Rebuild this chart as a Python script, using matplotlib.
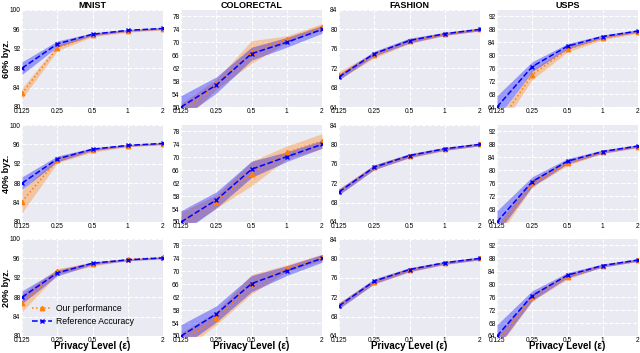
import matplotlib
matplotlib.use("Agg")
import matplotlib.pyplot as plt
import numpy as np

# x axis: privacy levels (categorical positions)
EPS_LABELS = ["0.125", "0.25", "0.5", "1", "2"]
ROW_LABELS = ["60% byz.", "40% byz.", "20% byz."]
DATASETS = ["MNIST", "COLORECTAL", "FASHION", "USPS"]

# rows: 60%, 40%, 20% byzantine
MNIST_OURS = [[82.8, 92.2, 94.8, 95.6, 96.1],
              [84.2, 92.8, 94.8, 95.7, 96.1],
              [86.8, 93.3, 94.8, 95.8, 96.2]]
MNIST_OURS_ERR = [[1.1, 0.6, 0.3, 0.2, 0.2],
                  [2.3, 0.6, 0.4, 0.2, 0.2],
                  [1.8, 0.6, 0.4, 0.2, 0.2]]
MNIST_REF = [[88.0, 93.0, 95.0, 95.8, 96.2],
             [88.0, 93.0, 95.0, 95.8, 96.2],
             [88.0, 93.0, 95.0, 95.7, 96.1]]
MNIST_REF_ERR = [[1.3, 0.6, 0.3, 0.2, 0.2],
                 [1.3, 0.6, 0.3, 0.2, 0.2],
                 [1.3, 0.6, 0.3, 0.2, 0.2]]

COLO_OURS = [[48.0, 57.0, 67.0, 71.0, 74.8],
             [50.0, 56.3, 65.0, 71.5, 75.0],
             [48.0, 55.5, 66.0, 71.0, 74.3]]
COLO_OURS_ERR = [[3.0, 1.5, 3.5, 1.0, 1.0],
                 [3.0, 2.0, 3.8, 2.0, 2.3],
                 [3.0, 2.0, 3.0, 1.0, 1.0]]
COLO_REF = [[50.0, 56.8, 66.5, 70.0, 74.0],
            [50.0, 56.8, 66.3, 70.2, 74.0],
            [50.0, 56.8, 66.2, 70.2, 74.0]]
COLO_REF_ERR = [[3.5, 2.5, 2.0, 1.5, 1.2],
                [3.5, 2.5, 2.5, 1.5, 1.2],
                [3.5, 2.5, 2.5, 1.5, 1.2]]

FASH_OURS = [[70.5, 74.7, 77.6, 79.0, 80.0],
             [70.3, 75.3, 77.6, 79.0, 80.0],
             [70.3, 75.2, 77.6, 79.0, 80.0]]
FASH_OURS_ERR = [[0.8, 0.6, 0.5, 0.3, 0.3],
                 [0.6, 0.5, 0.4, 0.3, 0.3],
                 [0.6, 0.5, 0.4, 0.3, 0.3]]
FASH_REF = [[70.2, 75.0, 77.7, 79.1, 80.0],
            [70.2, 75.3, 77.7, 79.1, 80.0],
            [70.2, 75.3, 77.7, 79.1, 80.0]]
FASH_REF_ERR = [[0.6, 0.5, 0.5, 0.3, 0.3],
                [0.6, 0.5, 0.4, 0.3, 0.3],
                [0.6, 0.5, 0.4, 0.3, 0.3]]

USPS_OURS = [[58.0, 74.0, 81.8, 85.3, 87.2],
             [61.0, 76.0, 82.2, 85.6, 87.3],
             [62.0, 76.0, 82.3, 85.8, 87.4]]
USPS_OURS_ERR = [[2.0, 1.5, 0.8, 0.5, 0.4],
                 [2.0, 1.2, 0.7, 0.4, 0.4],
                 [2.0, 1.2, 0.7, 0.4, 0.4]]
USPS_REF = [[64.0, 76.5, 82.8, 85.8, 87.5],
            [64.0, 76.5, 82.8, 85.8, 87.5],
            [64.0, 76.5, 82.8, 85.8, 87.5]]
USPS_REF_ERR = [[3.5, 1.5, 0.8, 0.5, 0.4],
                [3.5, 1.5, 0.8, 0.5, 0.4],
                [3.5, 1.5, 0.8, 0.5, 0.4]]

YLIMS = [(80, 100), (50, 80), (64, 84), (64, 94)]
YTICKS = [np.arange(80, 101, 4), np.arange(50, 79, 4),
          np.arange(64, 85, 4), np.arange(64, 93, 4)]

ORANGE = "#ff7f0e"
BLUE = "#0000ff"

plt.rcParams["font.family"] = ["Liberation Sans", "DejaVu Sans"]

W, H = 640, 353
fig = plt.figure(figsize=(6.4, 3.53), dpi=100)

COL_LEFT = [22, 181, 339, 497]
ROW_TOP = [10, 125, 239]
PW, PH = 141, 97

ours_all = [MNIST_OURS, COLO_OURS, FASH_OURS, USPS_OURS]
ours_err_all = [MNIST_OURS_ERR, COLO_OURS_ERR, FASH_OURS_ERR, USPS_OURS_ERR]
ref_all = [MNIST_REF, COLO_REF, FASH_REF, USPS_REF]
ref_err_all = [MNIST_REF_ERR, COLO_REF_ERR, FASH_REF_ERR, USPS_REF_ERR]

x = np.arange(len(EPS_LABELS))
legend_ax = None

for r in range(3):
    for c in range(4):
        ax = fig.add_axes([COL_LEFT[c] / W, 1 - (ROW_TOP[r] + PH) / H,
                           PW / W, PH / H])
        ax.set_facecolor("#eaeaf2")
        for s in ax.spines.values():
            s.set_visible(False)
        ax.grid(True, color="white", linestyle="--", linewidth=0.8)
        ax.set_axisbelow(True)

        ours = np.array(ours_all[c][r])
        oe = np.array(ours_err_all[c][r])
        ref = np.array(ref_all[c][r])
        re = np.array(ref_err_all[c][r])

        ax.fill_between(x, ours - oe, ours + oe, color=ORANGE, alpha=0.35,
                        linewidth=0)
        ax.fill_between(x, ref - re, ref + re, color=BLUE, alpha=0.35,
                        linewidth=0)
        ax.plot(x, ours, color=ORANGE, linestyle=":", marker="^",
                markersize=3.2, linewidth=1.1, label="Our performance")
        ax.plot(x, ref, color=BLUE, linestyle="--", marker="x",
                markersize=3.2, linewidth=1.1, label="Reference Accuracy")

        ax.set_xlim(0, 4)
        ax.set_ylim(*YLIMS[c])
        ax.set_xticks(x)
        ax.set_xticklabels(EPS_LABELS)
        ax.set_yticks(YTICKS[c])
        ax.tick_params(labelsize=4.8, length=0, pad=1)
        ax.tick_params(axis="x", pad=0.5)

        if r == 0:
            ax.set_title(DATASETS[c], fontsize=6.5, fontweight="bold", pad=1.5)
        if c == 0:
            ax.set_ylabel(ROW_LABELS[r], fontsize=6.5, fontweight="bold")
            ax.yaxis.set_label_coords(-0.08, 0.5)
        if r == 2:
            ax.set_xlabel("Privacy Level (ε)", fontsize=7,
                          fontweight="bold")
            ax.xaxis.set_label_coords(0.5, -0.055)
        if r == 2 and c == 0:
            legend_ax = ax

legend_ax.legend(loc="lower left", fontsize=6.2, frameon=False,
                 handlelength=2.3, handletextpad=0.4, labelspacing=0.45,
                 borderaxespad=0.0, bbox_to_anchor=(0.05, 0.07))

fig.savefig("out.png", dpi=100)
